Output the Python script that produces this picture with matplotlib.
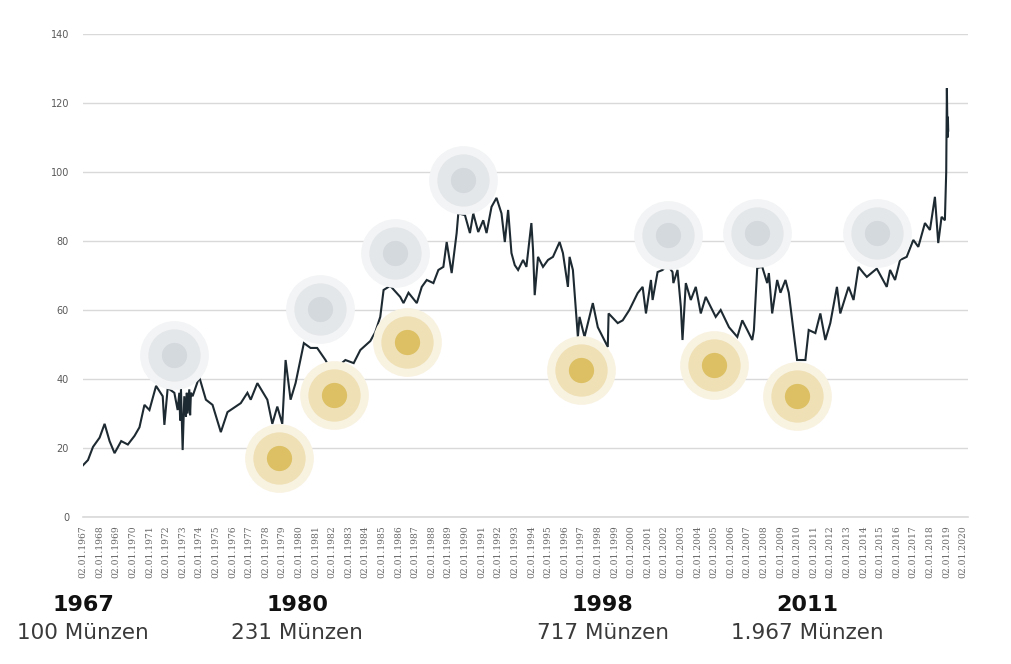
import numpy as np
import matplotlib
matplotlib.use("Agg")
import matplotlib.pyplot as plt

# ratio line (decimal year, value)
years = [1967.0, 1967.3, 1967.6, 1968.0, 1968.3, 1968.6, 1968.9, 1969.3, 1969.7, 1970.1,
         1970.4, 1970.7, 1971.0, 1971.4, 1971.8, 1971.9, 1972.1, 1972.5, 1972.7, 1972.8,
         1972.85, 1972.9, 1973.0, 1973.1, 1973.2, 1973.25, 1973.3, 1973.4, 1973.45, 1973.5,
         1973.6, 1974.0, 1974.4, 1974.8, 1975.3, 1975.7, 1976.5, 1976.9, 1977.1, 1977.5,
         1978.1, 1978.4, 1978.7, 1979.0, 1979.2, 1979.5, 1979.8, 1980.3, 1980.7, 1981.1,
         1981.6, 1981.7, 1982.2, 1982.8, 1983.3, 1983.7, 1984.3, 1984.6, 1984.9, 1985.1,
         1985.5, 1986.1, 1986.3, 1986.6, 1987.1, 1987.4, 1987.7, 1988.1, 1988.4, 1988.7,
         1988.9, 1989.2, 1989.5, 1989.6, 1990.0, 1990.3, 1990.5, 1990.8, 1991.1, 1991.3,
         1991.6, 1991.9, 1992.2, 1992.4, 1992.6, 1992.8, 1993.0, 1993.2, 1993.5, 1993.7,
         1994.0, 1994.1, 1994.2, 1994.4, 1994.7, 1995.0, 1995.3, 1995.7, 1995.9, 1996.2,
         1996.3, 1996.5, 1996.8, 1996.9, 1997.2, 1997.7, 1998.0, 1998.6, 1998.65, 1999.2,
         1999.5, 1999.9, 2000.4, 2000.7, 2000.9, 2001.2, 2001.3, 2001.6, 2001.9, 2002.2,
         2002.5, 2002.55, 2002.8, 2003.0, 2003.1, 2003.3, 2003.6, 2003.9, 2004.2, 2004.5,
         2004.8, 2005.1, 2005.4, 2005.9, 2006.4, 2006.7, 2007.0, 2007.3, 2007.4, 2007.6,
         2007.9, 2008.2, 2008.3, 2008.5, 2008.8, 2009.0, 2009.3, 2009.5, 2009.8, 2010.0,
         2010.5, 2010.7, 2011.1, 2011.4, 2011.7, 2012.0, 2012.4, 2012.6, 2013.1, 2013.4,
         2013.7, 2014.0, 2014.2, 2014.8, 2015.4, 2015.6, 2015.9, 2016.2, 2016.6, 2017.0,
         2017.3, 2017.7, 2018.0, 2018.3, 2018.5, 2018.7, 2018.9, 2018.98, 2019.02, 2019.06,
         2019.08, 2019.1]
values = [15.0, 16.5, 20.3, 23.0, 27.0, 22.0, 18.5, 22.0, 21.0, 23.5,
          26.0, 32.5, 31.0, 38.0, 35.0, 26.7, 37.4, 36.0, 31.0, 36.0,
          28.0, 37.0, 19.4, 35.0, 29.0, 36.0, 30.0, 37.0, 29.5, 36.0,
          35.0, 40.6, 34.0, 32.5, 24.6, 30.4, 33.0, 36.0, 34.0, 38.8,
          34.0, 27.0, 32.0, 27.0, 45.5, 34.0, 38.8, 50.4, 49.0, 49.0,
          45.5, 44.6, 43.0, 45.5, 44.6, 48.4, 51.0, 53.6, 58.0, 65.8,
          67.0, 63.8, 62.0, 65.0, 62.0, 66.7, 68.7, 67.8, 71.6, 72.5,
          79.7, 70.7, 82.3, 88.0, 87.5, 82.3, 88.0, 82.6, 86.0, 82.3,
          89.9, 92.5, 88.0, 79.7, 89.0, 76.5, 73.0, 71.6, 74.5, 72.5,
          85.2, 77.4, 64.3, 75.4, 72.5, 74.5, 75.4, 79.7, 76.5, 66.7,
          75.4, 71.6, 52.2, 58.0, 52.2, 62.0, 55.0, 49.3, 59.0, 56.2,
          57.0, 60.0, 64.9, 66.7, 59.0, 68.7, 62.9, 71.0, 71.6, 73.0,
          71.0, 67.8, 71.6, 60.9, 51.3, 67.8, 62.9, 66.7, 59.0, 63.8,
          60.9, 58.0, 60.0, 55.0, 52.2, 57.0, 54.2, 51.3, 54.2, 72.2,
          72.5, 67.8, 70.7, 59.0, 68.7, 65.0, 68.7, 65.0, 53.3, 45.5,
          45.5, 54.2, 53.3, 59.0, 51.3, 56.2, 66.7, 59.0, 66.7, 62.9,
          72.5, 70.7, 69.6, 72.0, 66.7, 71.6, 68.7, 74.5, 75.4, 80.3,
          78.3, 85.2, 83.2, 92.8, 79.4, 87.0, 86.0, 100.0, 124.3, 110.0,
          116.0, 112.0]

# circle markers (year, value)
silver_x = [1972.5, 1981.3, 1985.8, 1989.9, 2002.2, 2007.6, 2014.8]
silver_y = [47.0, 60.3, 76.5, 97.7, 81.7, 82.3, 82.3]
gold_x = [1978.8, 1982.1, 1986.5, 1997.0, 2005.0, 2010.0]
gold_y = [17.1, 35.4, 50.7, 42.6, 44.1, 35.1]

tick_years = list(range(1967, 2021))
tick_labels = ["02.01.%d" % y for y in tick_years]

notes_year = ["1967", "1980", "1998", "2011"]
notes_coins = ["100 Münzen", "231 Münzen", "717 Münzen", "1.967 Münzen"]
notes_x = [1967.0, 1979.9, 1998.3, 2010.6]

fig = plt.figure(figsize=(10.11, 6.64), dpi=100)
ax = fig.add_axes([0.0821, 0.2214, 0.8755, 0.7274])

ax.plot(years, values, color="#1e2a31", lw=1.5, zorder=2, solid_joinstyle="miter")

for xs, ys, cols in ((silver_x, silver_y, ("#f3f4f5", "#e4e7ea", "#d4d9dd")),
                     (gold_x, gold_y, ("#f8f2e1", "#efe0b6", "#dcc063"))):
	ax.scatter(xs, ys, s=2450, color=cols[0], lw=0, zorder=3)
	ax.scatter(xs, ys, s=1420, color=cols[1], lw=0, zorder=4)
	ax.scatter(xs, ys, s=330, color=cols[2], lw=0, zorder=5)

ax.set_xlim(1967, 2020.3)
ax.set_ylim(0, 140)
ax.set_yticks(range(0, 141, 20))
ax.yaxis.grid(True, color="#d9d9d9", lw=1.0)
ax.axhline(0, color="#d9d9d9", lw=1.2, clip_on=False, zorder=0)
ax.set_axisbelow(True)
for s in ax.spines.values(): s.set_visible(False)
ax.tick_params(axis="y", length=0, pad=10, labelsize=7, labelcolor="#595959")
ax.set_xticks(tick_years)
ax.set_xticklabels(tick_labels, rotation=90, fontsize=6.6, color="#666666", family="DejaVu Serif")
ax.tick_params(axis="x", length=0, pad=6)

for x, yr, coins in zip(notes_x, notes_year, notes_coins):
	fx = ax.transData.transform((x, 0))[0] / fig.bbox.width
	fig.text(fx, 1 - 605 / 664, yr, ha="center", va="center", fontsize=16, fontweight="bold", color="#111111")
	fig.text(fx, 1 - 633 / 664, coins, ha="center", va="center", fontsize=15.5, color="#3a3a3a")

fig.savefig("out.png", dpi=100)
